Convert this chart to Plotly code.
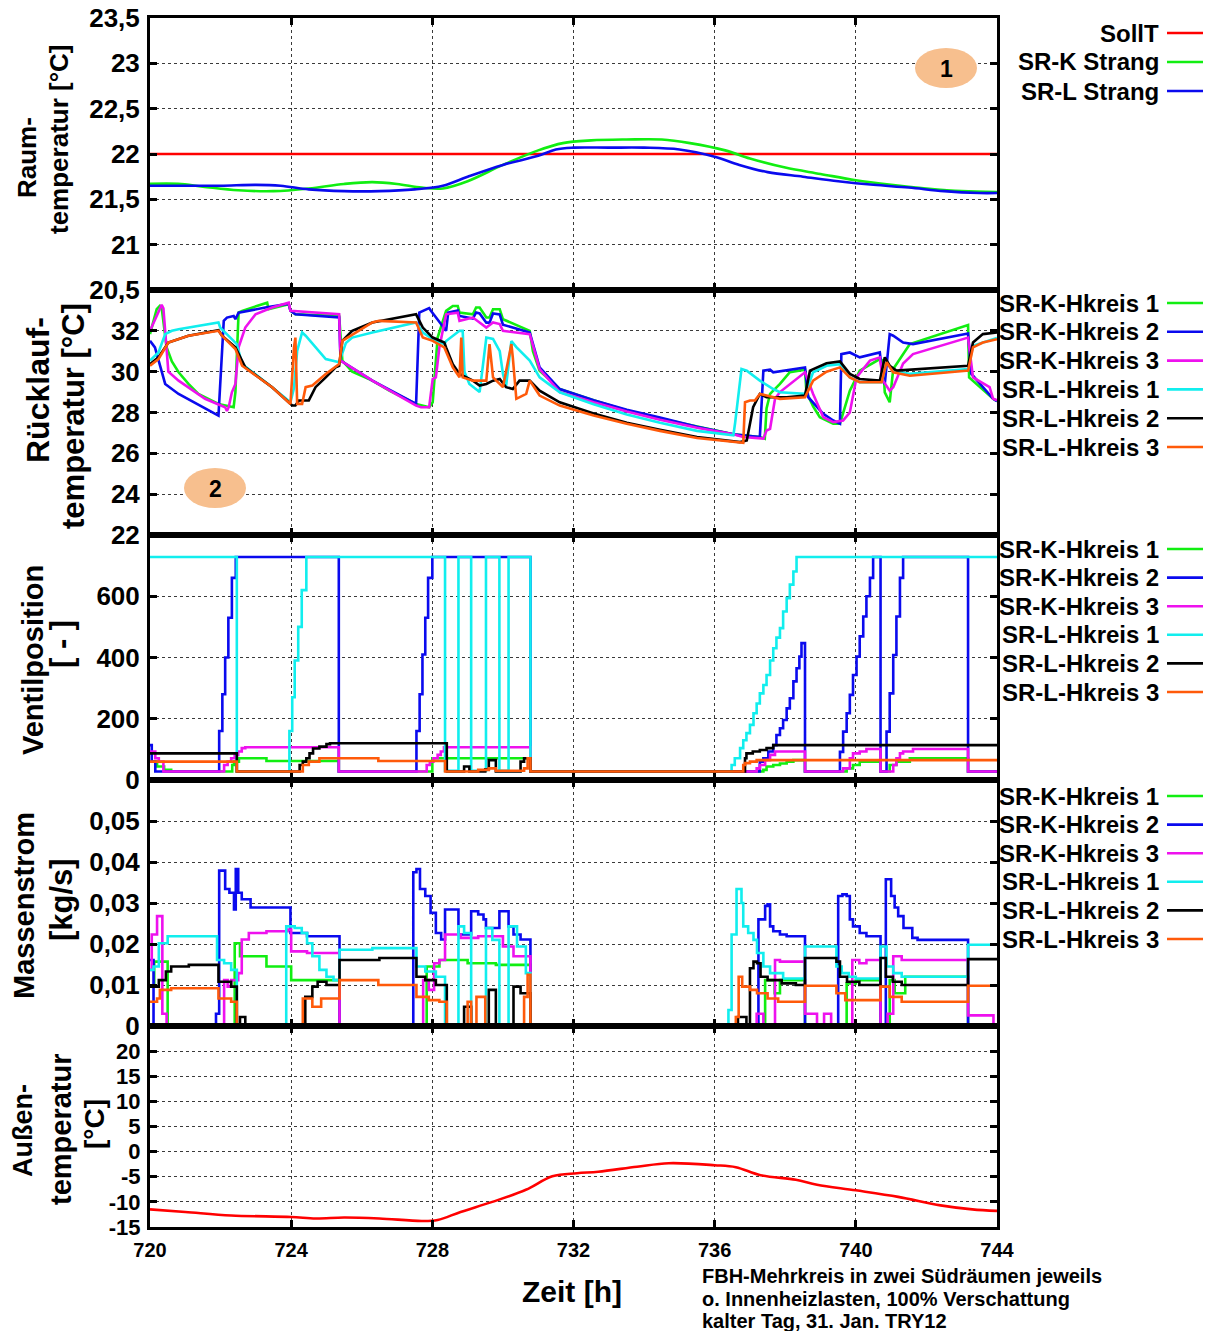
import plotly.graph_objects as go

# ---------------- data ----------------
HOUR_TICKS = [720, 724, 728, 732, 736, 740, 744]

# Raumtemperatur [°C]
SOLL_T = [(720.0, 22.0), (744.0, 22.0)]
RAUM_K = [(720, 21.67), (720.8, 21.67), (721.5, 21.64), (722.5, 21.6), (723.5, 21.59), (724.5, 21.62),
          (725.5, 21.67), (726.3, 21.69), (727.0, 21.67), (727.7, 21.63), (728.3, 21.62), (729.0, 21.7),
          (730.0, 21.88), (731.0, 22.04), (731.7, 22.12), (732.5, 22.15), (733.5, 22.16), (734.5, 22.16),
          (735.3, 22.12), (736.3, 22.04), (737.0, 21.95), (738.0, 21.85), (739.0, 21.78), (740.0, 21.71),
          (741.0, 21.66), (742.0, 21.62), (743.0, 21.59), (744.0, 21.58)]
RAUM_L = [(720, 21.65), (721, 21.65), (722, 21.65), (723, 21.66), (723.7, 21.65), (724.5, 21.61),
          (725.5, 21.59), (726.5, 21.59), (727.5, 21.61), (728.3, 21.65), (729.0, 21.75), (730.0, 21.88),
          (731.0, 21.98), (731.5, 22.05), (732.0, 22.07), (733.0, 22.07), (734.0, 22.07), (735.0, 22.05),
          (736.0, 21.97), (736.7, 21.88), (737.5, 21.8), (738.5, 21.75), (739.5, 21.7), (740.5, 21.66),
          (741.5, 21.63), (742.5, 21.59), (743.5, 21.57), (744, 21.57)]

# Rücklauftemperatur [°C]
RL_K1 = [(720.0, 31.84), (720.19, 33.06), (720.28, 33.22), (720.33, 33.14), (720.47, 31.2), (720.62, 30.5),
         (720.81, 29.97), (721.09, 29.4), (721.37, 28.91), (721.94, 28.42), (722.37, 28.26), (722.42, 29.0),
         (722.51, 32.89), (722.61, 32.98), (723.32, 33.38), (723.36, 33.06), (723.93, 33.3), (723.98, 32.98),
         (724.12, 32.81), (725.36, 32.73), (725.45, 30.54), (725.73, 30.0), (726.3, 29.56), (726.78, 29.07),
         (727.54, 28.42), (727.91, 28.26), (728.01, 28.5), (728.15, 31.67), (728.39, 32.98), (728.58, 33.22),
         (728.72, 33.22), (728.77, 32.89), (729.15, 32.81), (729.24, 33.14), (729.34, 33.14), (729.53, 32.65),
         (729.62, 32.65), (729.72, 33.06), (729.91, 33.06), (730.0, 32.57), (730.76, 32.0), (730.85, 31.0),
         (731.04, 30.05), (731.61, 29.15), (732.57, 28.6), (733.51, 28.1), (734.45, 27.7), (735.5, 27.3),
         (736.53, 26.93), (737.28, 26.8), (737.42, 26.72), (737.47, 28.2), (737.57, 28.91), (737.85, 29.4),
         (738.13, 29.97), (738.56, 30.1), (738.6, 29.0), (738.79, 28.3), (738.98, 27.77), (739.36, 27.45),
         (739.55, 27.45), (739.83, 29.07), (740.11, 30.05), (740.68, 30.62), (740.77, 30.54), (740.82, 28.99),
         (740.96, 28.5), (741.06, 30.13), (741.53, 31.35), (743.18, 32.28), (743.21, 29.72), (743.89, 28.67),
         (744.0, 28.55)]
RL_K2 = [(720.0, 31.51), (720.14, 31.19), (720.43, 29.4), (720.81, 28.91), (721.94, 27.85), (721.99, 29.5),
         (722.09, 32.49), (722.18, 32.65), (722.37, 32.73), (722.42, 32.57), (722.51, 32.89), (723.27, 33.14),
         (723.93, 33.33), (723.98, 32.98), (724.12, 32.81), (725.36, 32.65), (725.4, 30.54), (726.3, 29.56),
         (727.54, 28.42), (727.63, 32.89), (727.91, 33.11), (727.96, 32.98), (728.29, 32.24), (728.39, 32.0),
         (728.45, 32.9), (728.72, 33.0), (728.77, 32.73), (729.15, 32.6), (729.24, 32.9), (729.34, 32.85),
         (729.53, 32.4), (729.62, 32.4), (729.72, 32.85), (729.91, 32.8), (730.0, 32.3), (730.76, 31.92),
         (731.04, 30.21), (731.61, 29.15), (732.57, 28.6), (733.51, 28.14), (734.45, 27.75), (735.5, 27.3),
         (736.53, 26.93), (737.28, 26.8), (737.38, 30.05), (737.57, 30.1), (737.66, 29.97), (738.56, 30.21),
         (738.65, 28.75), (739.08, 27.93), (739.36, 27.61), (739.55, 27.45), (739.59, 30.86), (739.83, 30.94),
         (740.11, 30.7), (740.68, 30.94), (740.77, 29.56), (740.82, 29.4), (740.96, 31.84), (741.06, 31.76),
         (741.34, 31.43), (741.62, 31.35), (743.18, 31.87), (743.27, 29.9), (743.89, 28.67), (744.0, 28.55)]
RL_K3 = [(720.0, 32.0), (720.33, 33.27), (720.38, 33.1), (720.52, 30.0), (720.81, 29.56), (721.56, 28.67),
         (722.13, 28.26), (722.18, 28.07), (722.23, 28.26), (722.32, 28.99), (722.42, 29.4), (722.51, 31.19),
         (722.7, 32.16), (722.99, 32.81), (723.46, 33.14), (723.93, 33.38), (723.98, 32.98), (725.36, 32.81),
         (725.4, 30.54), (726.3, 29.56), (727.54, 28.34), (727.68, 28.26), (727.91, 28.26), (728.01, 29.64),
         (728.1, 29.72), (728.2, 31.19), (728.39, 32.81), (728.72, 32.89), (728.77, 32.49), (729.15, 32.65),
         (729.53, 32.16), (729.72, 32.41), (729.91, 32.33), (730.0, 32.0), (730.76, 31.84), (731.04, 30.13),
         (731.61, 29.0), (732.57, 28.5), (733.51, 28.05), (734.45, 27.65), (735.5, 27.25), (736.53, 26.93),
         (736.81, 26.8), (737.38, 26.72), (737.47, 27.12), (737.57, 27.2), (737.71, 28.67), (737.85, 29.0),
         (738.56, 29.97), (738.79, 28.91), (739.08, 27.77), (739.36, 27.53), (739.64, 27.61), (739.83, 28.0),
         (740.02, 29.72), (740.4, 30.54), (740.68, 30.7), (740.77, 29.56), (740.96, 29.07), (741.06, 29.24),
         (741.34, 30.4), (741.62, 30.86), (743.18, 31.67), (743.32, 29.72), (743.79, 29.24), (743.89, 28.67),
         (744.0, 28.6)]
RL_L1 = [(720.0, 30.54), (720.24, 30.94), (720.43, 31.84), (720.62, 32.0), (720.81, 32.08), (721.94, 32.41),
         (721.99, 32.16), (722.42, 31.43), (722.46, 31.35), (722.61, 30.37), (723.46, 29.24), (723.98, 28.5),
         (724.08, 29.2), (724.17, 31.02), (724.31, 31.92), (724.41, 31.76), (724.69, 31.19), (724.98, 30.62),
         (725.36, 30.46), (725.55, 31.4), (725.73, 31.67), (726.3, 31.92), (727.54, 32.41), (727.73, 31.92),
         (728.01, 31.59), (728.34, 31.35), (728.39, 31.5), (728.77, 32.0), (728.86, 32.0), (728.91, 30.0),
         (729.05, 29.4), (729.34, 29.0), (729.53, 31.67), (729.72, 31.6), (729.91, 31.0), (730.0, 29.9),
         (730.09, 29.3), (730.24, 31.5), (730.38, 31.2), (730.76, 30.54), (731.04, 29.72), (731.61, 28.99),
         (732.57, 28.4), (733.51, 27.9), (734.45, 27.5), (735.5, 27.1), (736.53, 26.88), (736.58, 27.5),
         (736.76, 30.13), (736.91, 30.05), (737.28, 29.56), (737.66, 29.15), (737.85, 28.99), (738.56, 28.91),
         (738.79, 29.97), (739.17, 30.29), (739.55, 30.37), (739.83, 29.72), (740.11, 29.48), (740.73, 29.48),
         (740.87, 30.46), (741.06, 30.05), (741.53, 29.89), (743.18, 30.13), (743.32, 31.27), (743.89, 31.59),
         (744.0, 31.65)]
RL_L2 = [(720.0, 30.37), (720.24, 30.7), (720.52, 31.43), (721.09, 31.76), (721.94, 32.03), (722.04, 31.76),
         (722.42, 31.19), (722.56, 30.7), (722.7, 30.21), (723.46, 29.24), (723.98, 28.46), (724.03, 28.34),
         (724.12, 28.34), (724.22, 28.59), (724.5, 28.59), (724.69, 29.24), (724.98, 29.72), (725.26, 30.21),
         (725.36, 30.29), (725.45, 31.51), (725.73, 32.0), (726.3, 32.41), (727.54, 32.81), (727.73, 32.16),
         (728.01, 31.67), (728.34, 31.43), (728.39, 31.19), (728.58, 30.37), (728.77, 29.89), (729.15, 29.56),
         (729.34, 29.32), (729.53, 29.4), (729.72, 29.56), (729.91, 29.64), (730.09, 29.24), (730.28, 29.15),
         (730.47, 29.56), (730.76, 29.56), (731.04, 29.07), (731.61, 28.5), (732.57, 27.95), (733.51, 27.5),
         (734.45, 27.15), (735.5, 26.8), (736.72, 26.55), (736.91, 26.63), (737.09, 28.26), (737.28, 28.91),
         (737.47, 28.75), (738.04, 28.75), (738.56, 28.83), (738.7, 30.05), (739.17, 30.41), (739.55, 30.5),
         (739.83, 29.89), (740.11, 29.64), (740.68, 29.56), (740.82, 30.7), (740.96, 30.29), (741.15, 30.05),
         (743.18, 30.29), (743.32, 31.43), (743.6, 31.84), (744.0, 31.92)]
RL_L3 = [(720.0, 30.29), (720.24, 30.62), (720.52, 31.43), (721.09, 31.76), (721.94, 32.0), (722.04, 31.76),
         (722.42, 31.11), (722.61, 30.29), (723.46, 29.24), (723.98, 28.42), (724.08, 31.19), (724.12, 31.67),
         (724.17, 28.42), (724.31, 28.42), (724.41, 29.24), (724.6, 29.32), (724.98, 29.89), (725.36, 30.37),
         (725.45, 31.51), (726.3, 32.41), (726.49, 32.49), (727.54, 32.41), (727.73, 31.67), (728.01, 31.51),
         (728.34, 31.19), (728.58, 30.21), (728.77, 29.72), (728.82, 31.67), (728.86, 29.72), (729.15, 29.56),
         (729.53, 29.56), (729.62, 31.35), (729.72, 29.72), (730.0, 29.24), (730.24, 31.35), (730.28, 30.7),
         (730.38, 28.67), (730.66, 28.91), (730.76, 29.56), (731.04, 28.83), (731.61, 28.34), (732.57, 27.85),
         (733.51, 27.45), (734.45, 27.1), (735.5, 26.75), (736.81, 26.52), (736.86, 28.5), (737.0, 28.59),
         (737.14, 28.59), (737.28, 28.91), (737.47, 28.83), (737.85, 28.67), (738.56, 28.75), (738.79, 29.56),
         (739.17, 30.0), (739.55, 30.21), (739.83, 29.72), (740.11, 29.48), (740.73, 29.48), (740.87, 30.46),
         (741.06, 29.97), (741.53, 29.8), (743.18, 30.05), (743.32, 31.19), (743.6, 31.43), (744.0, 31.59)]

# Ventilposition [-] (value holds until the next time stamp)
VP_K1 = [(720, 60), (720.2, 44), (720.4, 33), (720.6, 28), (722.33, 49), (722.38, 60), (722.52, 71),
         (723.3, 62), (725.35, 28), (728.0, 71), (730.78, 28), (737.38, 33), (737.47, 44), (737.66, 49),
         (737.85, 54), (738.04, 60), (738.23, 65), (738.56, 28), (739.74, 38), (739.92, 49), (740.11, 60),
         (740.7, 28), (740.96, 49), (741.15, 60), (741.53, 71), (743.18, 28), (744, 28)]
VP_K2 = [(720, 114), (720.05, 60), (720.15, 28), (721.96, 160), (722.05, 280), (722.13, 400), (722.22, 530),
         (722.32, 660), (722.43, 728), (725.35, 28), (727.55, 160), (727.64, 280), (727.72, 410), (727.8, 530),
         (727.88, 660), (728.0, 728), (730.78, 28), (737.28, 60), (737.38, 71), (737.52, 93), (737.66, 114),
         (737.75, 147), (737.85, 169), (737.94, 196), (738.04, 234), (738.13, 267), (738.23, 322), (738.32, 365),
         (738.4, 403), (738.46, 447), (738.56, 28), (739.55, 92), (739.64, 158), (739.74, 218), (739.83, 278),
         (739.92, 343), (740.02, 403), (740.11, 469), (740.21, 534), (740.3, 600), (740.4, 660), (740.49, 728),
         (740.7, 28), (740.87, 158), (740.96, 283), (741.06, 408), (741.15, 534), (741.25, 660), (741.34, 728),
         (743.18, 28), (744, 28)]
VP_K3 = [(720, 93), (720.15, 71), (720.25, 60), (720.38, 28), (722.1, 49), (722.2, 60), (722.3, 71), (722.4, 82),
         (722.5, 93), (722.6, 104), (722.7, 107), (725.35, 28), (727.84, 49), (727.93, 60), (728.03, 71),
         (728.15, 82), (728.24, 93), (728.33, 107), (730.78, 28), (737.19, 38), (737.28, 49), (737.43, 65),
         (737.57, 82), (737.71, 93), (738.56, 28), (739.64, 38), (739.83, 71), (739.92, 87), (740.11, 93),
         (740.3, 101), (740.7, 28), (741.06, 49), (741.15, 71), (741.25, 87), (741.34, 93), (741.62, 101),
         (743.18, 28), (744, 28)]
VP_L1 = [(720, 728), (722.46, 28), (723.95, 160), (724.03, 270), (724.1, 390), (724.2, 500), (724.3, 620),
         (724.43, 728), (728.36, 30), (728.74, 728), (729.1, 30), (729.52, 728), (729.9, 30), (730.16, 728),
         (730.78, 28), (736.48, 49), (736.57, 71), (736.72, 104), (736.81, 130), (736.9, 153), (737.0, 180),
         (737.1, 218), (737.19, 250), (737.28, 283), (737.38, 310), (737.47, 343), (737.57, 390), (737.66, 430),
         (737.75, 465), (737.85, 496), (737.94, 550), (738.04, 594), (738.13, 638), (738.23, 681), (738.32, 728),
         (744, 728)]
VP_L2 = [(720, 87), (722.46, 28), (724.24, 49), (724.33, 60), (724.43, 71), (724.52, 87), (724.62, 103),
         (724.8, 109), (725.0, 117), (725.1, 120), (728.41, 28), (728.9, 44), (729.05, 28), (729.5, 35),
         (729.6, 65), (729.8, 28), (730.5, 60), (730.6, 71), (730.78, 28), (736.86, 71), (736.9, 87),
         (737.08, 93), (737.28, 98), (737.47, 104), (737.66, 114), (744, 114)]
VP_L3 = [(720, 60), (722.46, 28), (724.33, 49), (724.5, 60), (724.8, 71), (726.47, 62), (728.36, 28),
         (729.3, 33), (729.6, 38), (729.8, 30), (730.6, 38), (730.7, 71), (730.78, 28), (736.81, 49),
         (736.86, 55), (737.0, 60), (737.19, 65), (744, 65)]

# Massenstrom [kg/s] (value holds until the next time stamp)
MS_K1 = [(720, 0.0096), (720.12, 0.0157), (720.5, 0.0), (722.4, 0.0202), (722.55, 0.017), (723.3, 0.0145),
         (724.0, 0.0112), (725.37, 0.0), (727.84, 0.0145), (728.2, 0.0161), (729.0, 0.0153), (729.8, 0.0149),
         (730.78, 0.0), (737.43, 0.0112), (737.7, 0.008), (737.85, 0.0112), (738.56, 0.0), (739.74, 0.0104),
         (740.0, 0.0112), (740.7, 0.0), (740.96, 0.0112), (741.1, 0.008), (741.4, 0.012), (743.18, 0.0),
         (744, 0.0)]
MS_K2 = [(720, 0.0161), (720.1, 0.0), (721.87, 0.003), (721.96, 0.0379), (722.13, 0.0334), (722.25, 0.0325),
         (722.38, 0.0284), (722.43, 0.0383), (722.5, 0.0325), (722.6, 0.0309), (722.85, 0.0289), (723.98, 0.0227),
         (724.45, 0.0219), (725.37, 0.0), (727.46, 0.0375), (727.55, 0.0383), (727.65, 0.0334), (727.8, 0.0317),
         (727.95, 0.0276), (728.1, 0.0227), (728.25, 0.0211), (728.36, 0.0284), (728.74, 0.0223), (729.1, 0.028),
         (729.3, 0.0272), (729.45, 0.026), (729.52, 0.0239), (729.9, 0.028), (730.16, 0.0243), (730.3, 0.0223),
         (730.5, 0.0211), (730.78, 0.0), (737.24, 0.026), (737.43, 0.0293), (737.5, 0.0297), (737.57, 0.0243),
         (737.66, 0.0231), (737.85, 0.0223), (738.04, 0.0219), (738.56, 0.0), (739.5, 0.0317), (739.62, 0.0321),
         (739.74, 0.0317), (739.83, 0.026), (739.92, 0.0243), (740.11, 0.0227), (740.3, 0.0219), (740.7, 0.0),
         (740.85, 0.0358), (741.0, 0.0317), (741.1, 0.0289), (741.2, 0.0268), (741.35, 0.0239), (741.6, 0.0215),
         (741.75, 0.021), (743.18, 0.0), (744, 0.0)]
MS_K3 = [(720, 0.0137), (720.05, 0.0223), (720.2, 0.0268), (720.35, 0.003), (720.47, 0.0), (722.1, 0.0112),
         (722.2, 0.0096), (722.3, 0.0112), (722.5, 0.0129), (722.6, 0.0211), (722.8, 0.0227), (723.3, 0.0231),
         (723.9, 0.0235), (724.0, 0.0182), (724.45, 0.0178), (725.37, 0.0), (727.74, 0.0112), (727.9, 0.0088),
         (728.05, 0.0153), (728.2, 0.0161), (728.36, 0.0223), (728.8, 0.0215), (729.3, 0.0219), (730.0, 0.0194),
         (730.3, 0.017), (730.78, 0.0), (737.19, 0.003), (737.38, 0.0), (737.71, 0.0161), (737.85, 0.0157),
         (738.56, 0.003), (738.9, 0.0), (739.1, 0.003), (739.3, 0.0), (739.9, 0.0161), (740.1, 0.0153),
         (740.3, 0.0161), (740.7, 0.0), (740.9, 0.003), (741.06, 0.017), (741.3, 0.0161), (743.18, 0.0026),
         (743.9, 0.0), (744, 0.0)]
MS_L1 = [(720, 0.0137), (720.1, 0.0145), (720.25, 0.0202), (720.5, 0.0219), (721.9, 0.0161), (722.1, 0.0153),
         (722.3, 0.0137), (722.46, 0.0), (723.86, 0.0243), (724.1, 0.0239), (724.3, 0.0227), (724.45, 0.0202),
         (724.6, 0.017), (724.8, 0.0137), (725.0, 0.012), (725.2, 0.0112), (725.37, 0.0186), (726.3, 0.019),
         (727.55, 0.0145), (727.8, 0.0133), (728.1, 0.012), (728.36, 0.0), (728.74, 0.0243), (728.9, 0.0227),
         (729.1, 0.0), (729.52, 0.0239), (729.7, 0.021), (729.9, 0.0), (730.16, 0.0243), (730.4, 0.0194),
         (730.65, 0.0129), (730.78, 0.0), (736.39, 0.0039), (736.48, 0.0223), (736.62, 0.0334), (736.76, 0.03),
         (736.81, 0.0243), (736.95, 0.0227), (737.1, 0.021), (737.2, 0.0178), (737.38, 0.0145), (737.57, 0.0129),
         (737.94, 0.0116), (738.56, 0.0194), (739.45, 0.0145), (739.6, 0.0129), (739.8, 0.012), (740.0, 0.0116),
         (740.7, 0.0194), (740.87, 0.0145), (741.06, 0.0129), (741.3, 0.012), (743.18, 0.0198), (744, 0.0198)]
MS_L2 = [(720, 0.0096), (720.25, 0.0112), (720.45, 0.0133), (720.6, 0.0145), (721.1, 0.0149), (721.94, 0.0108),
         (722.3, 0.0096), (722.46, 0.0), (722.55, 0.0022), (722.7, 0.0), (724.4, 0.0071), (724.6, 0.0096),
         (724.75, 0.0108), (725.0, 0.01), (725.37, 0.0161), (726.5, 0.0166), (727.55, 0.012), (727.8, 0.0112),
         (728.1, 0.01), (728.41, 0.0), (728.9, 0.0047), (729.1, 0.0), (729.6, 0.0088), (729.8, 0.0),
         (730.3, 0.0096), (730.5, 0.008), (730.78, 0.0), (736.66, 0.0022), (736.9, 0.0), (737.0, 0.0141),
         (737.1, 0.0157), (737.2, 0.0153), (737.3, 0.012), (737.5, 0.0112), (737.9, 0.0104), (738.3, 0.01),
         (738.56, 0.0166), (739.45, 0.0157), (739.55, 0.012), (739.75, 0.0108), (740.1, 0.01), (740.7, 0.0166),
         (740.85, 0.012), (741.05, 0.0108), (741.3, 0.01), (743.18, 0.0163), (744, 0.0163)]
MS_L3 = [(720, 0.0059), (720.2, 0.0067), (720.28, 0.0088), (720.6, 0.0092), (721.94, 0.0067), (722.3, 0.0059),
         (722.46, 0.0), (724.33, 0.0067), (724.6, 0.0047), (724.85, 0.0067), (725.37, 0.0112), (726.47, 0.01),
         (727.55, 0.0071), (727.9, 0.0063), (728.2, 0.0059), (728.41, 0.0), (729.0, 0.0059), (729.1, 0.0),
         (729.25, 0.0071), (729.5, 0.0), (730.6, 0.0071), (730.7, 0.0125), (730.78, 0.0), (736.6, 0.0022),
         (736.68, 0.012), (736.78, 0.0096), (737.0, 0.0088), (737.2, 0.008), (737.5, 0.0067), (737.8, 0.0059),
         (738.56, 0.0098), (739.45, 0.008), (739.7, 0.0063), (740.7, 0.0096), (740.96, 0.0071), (741.3, 0.0059),
         (743.18, 0.0098), (744, 0.0098)]

# Außentemperatur [°C]
AUSSEN_T = [(720, -11.5), (721, -12.0), (722.3, -12.7), (724, -13.0), (724.7, -13.3), (725.5, -13.1),
            (726.5, -13.3), (727.7, -13.8), (728.15, -13.6), (728.8, -12.0), (729.7, -10.0), (730.65, -7.6),
            (731.4, -4.9), (732.1, -4.3), (732.7, -4.0), (733.8, -3.0), (734.7, -2.3), (736.0, -2.7),
            (736.6, -3.1), (737.3, -4.7), (738.3, -5.6), (738.9, -6.6), (740.0, -7.7), (741.2, -9.0),
            (742.4, -10.7), (743.3, -11.5), (744, -11.8)]

KREIS_NAMES = ["SR-K-Hkreis 1", "SR-K-Hkreis 2", "SR-K-Hkreis 3",
               "SR-L-Hkreis 1", "SR-L-Hkreis 2", "SR-L-Hkreis 3"]
KREIS_COLORS = ["#11EE11", "#0A0AEE", "#EE11EE", "#11EEEE", "#000000", "#FF5A0A"]
RED = "#FF0000"

# ---------------- layout geometry (pixels) ----------------
W, H = 1212, 1331
X0, X1 = 150, 997
PANELS = [(18, 290), (290, 535), (535, 780), (780, 1026), (1026, 1227)]
FONT = "Liberation Sans, Arial, sans-serif"


def px(x):
    return x / W


def py(y):
    return 1 - y / H


fig = go.Figure()


def add_line(data, color, row, shape="linear", width=2.6):
    xs = [p[0] for p in data]
    ys = [p[1] for p in data]
    sfx = "" if row == 1 else str(row)
    fig.add_trace(go.Scatter(x=xs, y=ys, mode="lines", xaxis="x" + sfx, yaxis="y" + sfx,
                             line=dict(color=color, width=width, shape=shape),
                             showlegend=False, hoverinfo="skip"))


# panel 1
add_line(SOLL_T, RED, 1)
add_line(RAUM_K, KREIS_COLORS[0], 1, shape="spline")
add_line(RAUM_L, KREIS_COLORS[1], 1, shape="spline")
# panel 2
for d, c in zip([RL_K1, RL_K2, RL_K3, RL_L1, RL_L2, RL_L3], KREIS_COLORS):
    add_line(d, c, 2)
# panel 3
for d, c in zip([VP_K1, VP_K2, VP_K3, VP_L1, VP_L2, VP_L3], KREIS_COLORS):
    add_line(d, c, 3, shape="hv")
# panel 4
for d, c in zip([MS_K1, MS_K2, MS_K3, MS_L1, MS_L2, MS_L3], KREIS_COLORS):
    add_line(d, c, 4, shape="hv")
# panel 5
add_line(AUSSEN_T, RED, 5, shape="spline")

# ---------------- axes ----------------
axis_style = dict(ticks="inside", ticklen=7, tickwidth=3, tickcolor="black",
                  showline=True, linewidth=3, linecolor="black", mirror="ticks",
                  showgrid=True, gridcolor="#3a3a3a", griddash="dot", gridwidth=1,
                  zeroline=False, fixedrange=True, automargin=False)

# range, tick values, tick texts, tick font size
Y_SPECS = [
    ([20.5, 23.5], [20.5, 21, 21.5, 22, 22.5, 23, 23.5], ["20,5", "21", "21,5", "22", "22,5", "23", "23,5"], 26),
    ([22, 34], [22, 24, 26, 28, 30, 32], ["22", "24", "26", "28", "30", "32"], 26),
    ([0, 800], [0, 200, 400, 600], ["0", "200", "400", "600"], 26),
    ([0, 0.06], [0, 0.01, 0.02, 0.03, 0.04, 0.05], ["0", "0,01", "0,02", "0,03", "0,04", "0,05"], 26),
    ([-15, 25], [-15, -10, -5, 0, 5, 10, 15, 20], ["-15", "-10", "-5", "0", "5", "10", "15", "20"], 22),
]

layout_axes = {}
for i, ((top, bot), (yr, tv, tt, fs)) in enumerate(zip(PANELS, Y_SPECS), start=1):
    sfx = "" if i == 1 else str(i)
    layout_axes["xaxis" + sfx] = dict(axis_style, range=[720, 744], tickvals=HOUR_TICKS,
                                      ticktext=[str(t) for t in HOUR_TICKS],
                                      domain=[px(X0), px(X1)], anchor="y" + sfx,
                                      showticklabels=(i == 5),
                                      tickfont=dict(family=FONT, size=20, color="black", weight="bold"),
                                      ticklabelstandoff=3)
    layout_axes["yaxis" + sfx] = dict(axis_style, range=yr, tickvals=tv, ticktext=tt,
                                      domain=[py(bot), py(top)], anchor="x" + sfx,
                                      tickfont=dict(family=FONT, size=fs, color="black", weight="bold"),
                                      ticklabelstandoff=2)

# ---------------- annotations & shapes ----------------
annotations = []
shapes = []


def text(x, y, s, size, angle=0, xanchor="center", yanchor="middle"):
    annotations.append(dict(xref="paper", yref="paper", x=px(x), y=py(y), text=s, showarrow=False,
                            textangle=angle, xanchor=xanchor, yanchor=yanchor,
                            font=dict(family=FONT, size=size, color="black", weight="bold")))


# axis titles (rotated)
text(27, 158, "Raum-", 26, -90)
text(59, 139, "temperatur [°C]", 26, -90)
text(38, 390, "Rücklauf-", 32, -90)
text(74, 416, "temperatur [°C]", 31, -90)
text(33, 660, "Ventilposition", 29, -90)
text(61, 644, "[ - ]", 31, -90)
text(24, 906, "Massenstrom", 29, -90)
text(61, 900, "[kg/s]", 31, -90)
text(23, 1131, "Außen-", 27, -90)
text(61, 1129, "temperatur", 29, -90)
text(94, 1124, "[°C]", 28, -90)

# legends
LEG_X_TEXT, LEG_X0, LEG_X1 = 1161, 1167, 1203


def legend(entries, y0, step):
    for k, (name, color) in enumerate(entries):
        y = y0 + k * step
        text(LEG_X_TEXT, y, name, 24, xanchor="right")
        shapes.append(dict(type="line", xref="paper", yref="paper", x0=px(LEG_X0), x1=px(LEG_X1),
                           y0=py(y), y1=py(y), line=dict(color=color, width=2.6)))


legend([("SollT", RED), ("SR-K Strang", KREIS_COLORS[0]), ("SR-L Strang", KREIS_COLORS[1])], 33, 29)
kreis_entries = list(zip(KREIS_NAMES, KREIS_COLORS))
legend(kreis_entries, 303, 28.8)
legend(kreis_entries, 549, 28.6)
legend(kreis_entries, 796, 28.6)

# numbered markers
for cx, cy, label in [(946, 68, "1"), (215, 488, "2")]:
    shapes.append(dict(type="circle", xref="paper", yref="paper", x0=px(cx - 31), x1=px(cx + 31),
                       y0=py(cy + 20), y1=py(cy - 20), fillcolor="#F7BF8E", line=dict(width=0),
                       layer="above"))
    text(cx, cy + 1, label, 23)

# bottom texts
text(572, 1291, "Zeit [h]", 30)
text(700, 1276, "FBH-Mehrkreis in zwei Südräumen jeweils", 20, xanchor="left")
text(700, 1299, "o. Innenheizlasten, 100% Verschattung", 20, xanchor="left")
text(700, 1321, "kalter Tag, 31. Jan. TRY12", 20, xanchor="left")

fig.update_layout(width=W, height=H, margin=dict(l=0, r=0, t=0, b=0, autoexpand=False),
                  paper_bgcolor="white", plot_bgcolor="white",
                  showlegend=False, annotations=annotations, shapes=shapes,
                  font=dict(family=FONT, color="black"), **layout_axes)

fig.write_html("out.html")
